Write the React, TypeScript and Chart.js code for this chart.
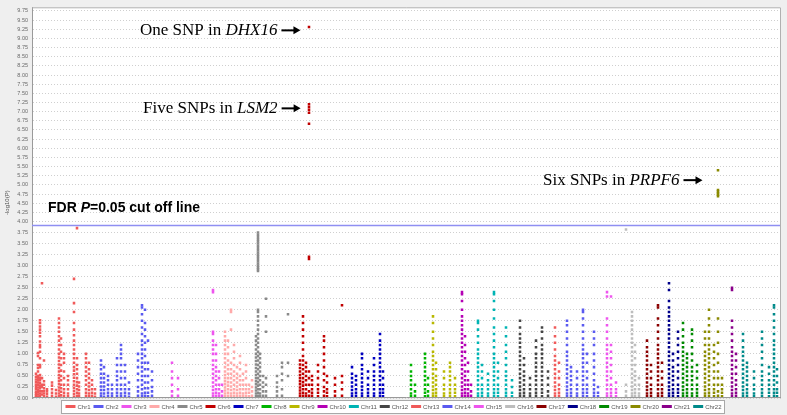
import React, { useEffect, useRef } from 'react';
import { Chart, registerables, LinearScale } from 'chart.js';

Chart.register(...registerables);

// ---------- data ----------
const chromosomes = ['Chr1', 'Chr2', 'Chr3', 'Chr4', 'Chr5', 'Chr6', 'Chr7', 'Chr8', 'Chr9', 'Chr10', 'Chr11',
  'Chr12', 'Chr13', 'Chr14', 'Chr15', 'Chr16', 'Chr17', 'Chr18', 'Chr19', 'Chr20', 'Chr21', 'Chr22'];

const chrColors = ['#f05a5a', '#5a5af0', '#ee55ee', '#ffaaaa', '#8a8a8a', '#c00000', '#0000c0', '#00b400',
  '#b8b800', '#b400b4', '#00b4b4', '#454545', '#f05a5a', '#5a5af0', '#ee55ee', '#bdbdbd', '#8a0000',
  '#00008a', '#008a00', '#8a8a00', '#8a008a', '#008a8a'];

// each column: [position, -log10(P) values ...]
const chr1Columns: number[][] = [
  [4, 0.02, 0.06, 0.1, 0.14, 0.2, 0.25, 0.3, 0.36, 0.42, 0.48, 0.55],
  [6, 0.03, 0.08, 0.13, 0.18, 0.24, 0.3, 0.35, 0.4, 0.46, 0.5, 0.6, 0.68, 0.75, 0.95, 1.02],
  [8, 0.05, 0.1, 0.16, 0.22, 0.28, 0.34, 0.4, 0.46, 0.52, 0.7, 0.75, 0.9, 1.05, 1.15, 1.2, 1.28, 1.4, 1.48, 1.55, 1.62, 1.7, 1.76],
  [10, 2.6, 0.08, 0.15, 0.25, 0.3, 0.45],
  [12, 0.04, 0.1, 0.16, 0.22, 0.3, 0.38, 0.85],
  [15, 0.03, 0.09, 0.15, 0.2],
  [20, 0.05, 0.12, 0.2, 0.28, 0.35],
  [24, 0.03, 0.1, 0.18],
  [27, 0.04, 0.1, 0.17, 0.24, 0.31, 0.38, 0.45, 0.52, 0.6, 0.68, 0.76, 0.84, 0.92, 1.0, 1.1, 1.2, 1.3, 1.4, 1.5, 1.6, 1.7, 1.8],
  [29, 0.06, 0.14, 0.22, 0.3, 0.4, 0.5, 0.62, 0.75, 0.9, 1.05, 1.2, 1.35],
  [32, 0.05, 0.12, 0.2, 0.3, 0.45, 0.6, 0.8, 0.9, 1.0],
  [36, 0.04, 0.1, 0.2, 0.3, 0.4, 0.5],
  [42, 0.03, 0.09, 0.16, 0.23, 0.3, 0.38, 0.46, 0.54, 0.62, 0.7, 0.8, 0.9, 1.0, 1.1, 1.2, 1.3, 1.42, 1.55, 1.7, 1.95, 2.15, 2.7],
  [45, 3.85, 0.05, 0.12, 0.2, 0.28, 0.36, 0.45, 0.55, 0.65, 0.75, 0.9],
  [47, 0.04, 0.1, 0.18, 0.26, 0.35],
  [54, 0.05, 0.12, 0.2, 0.3, 0.4, 0.5, 0.6, 0.7, 0.8, 0.9, 1.0],
  [57, 0.04, 0.1, 0.18, 0.26, 0.34, 0.45, 0.55, 0.65, 0.8],
  [60, 0.05, 0.12, 0.2, 0.3, 0.4],
  [63, 0.03, 0.1, 0.2],
];
const chr2Columns: number[][] = [
  [69, 0.04, 0.1, 0.18, 0.26, 0.35, 0.45, 0.55, 0.65, 0.75, 0.85],
  [72, 0.03, 0.1, 0.18, 0.26, 0.35, 0.45, 0.55, 0.7],
  [76, 0.05, 0.12, 0.2, 0.3, 0.4, 0.5],
  [80, 0.04, 0.1, 0.2, 0.3],
  [85, 0.05, 0.12, 0.2, 0.3, 0.4, 0.5, 0.6, 0.75, 0.9],
  [89, 0.04, 0.1, 0.2, 0.3, 0.45, 0.6, 0.75, 0.9, 1.0, 1.1, 1.2],
  [93, 0.05, 0.12, 0.2, 0.3, 0.45, 0.6, 0.75],
  [97, 0.03, 0.1, 0.2, 0.35],
  [106, 0.05, 0.15, 0.25, 0.4, 0.55, 0.7, 0.85, 1.0],
  [110, 0.04, 0.1, 0.2, 0.3, 0.4, 0.5, 0.6, 0.7, 0.8, 0.9, 1.0, 1.1, 1.2, 1.3, 1.45, 1.6, 1.75, 1.9, 2.05, 2.1],
  [113, 0.05, 0.12, 0.22, 0.35, 0.5, 0.65, 0.8, 0.95, 1.1, 1.25, 1.4, 1.55, 1.7, 2.0],
  [116, 0.04, 0.12, 0.22, 0.35, 0.5, 0.65, 0.8, 1.3],
  [120, 0.05, 0.15, 0.25, 0.4, 0.6],
];
const chr3Columns: number[][] = [
  [140, 0.05, 0.15, 0.3, 0.45, 0.6, 0.8],
  [146, 0.05, 0.2, 0.45],
  [181, 0.04, 0.1, 0.18, 0.26, 0.35, 0.45, 0.55, 0.65, 0.75, 0.85, 1.0, 1.1, 1.2, 1.3, 1.45, 1.5, 2.4, 2.45],
  [184, 0.05, 0.12, 0.2, 0.3, 0.4, 0.5, 0.6, 0.7, 0.85, 1.0, 1.2],
  [187, 0.04, 0.1, 0.2, 0.3, 0.45, 0.6],
  [190, 0.05, 0.15, 0.3],
];
const chr4Columns: number[][] = [
  [193, 0.04, 0.1, 0.17, 0.24, 0.31, 0.38, 0.45, 0.52, 0.6, 0.7, 0.8, 0.9, 1.0, 1.1, 1.2, 1.3, 1.4, 1.5],
  [196, 0.05, 0.12, 0.2, 0.28, 0.36, 0.45, 0.55, 0.65, 0.75, 0.85, 1.0, 1.15, 1.3],
  [199, 0.04, 0.1, 0.18, 0.26, 0.35, 0.45, 0.55, 0.65, 0.8, 1.55, 1.95, 2.0],
  [202, 0.05, 0.12, 0.2, 0.3, 0.4, 0.5, 0.6, 0.75, 0.9, 1.05, 1.2],
  [205, 0.04, 0.1, 0.18, 0.26, 0.35, 0.45, 0.55, 0.7],
  [208, 0.05, 0.12, 0.2, 0.3, 0.4, 0.5, 0.65, 0.8, 0.95],
  [211, 0.04, 0.1, 0.2, 0.3, 0.4, 0.55],
  [214, 0.05, 0.12, 0.2, 0.3, 0.45, 0.6, 0.75],
  [217, 0.04, 0.12, 0.2, 0.3],
  [220, 0.05, 0.15, 0.25, 0.4],
];
const chr5Columns: number[][] = [
  [224, 0.04, 0.1, 0.17, 0.24, 0.31, 0.38, 0.45, 0.52, 0.6, 0.68, 0.76, 0.84, 0.92, 1.0, 1.1, 1.2, 1.3, 1.4],
  [226, 0.05, 0.12, 0.2, 0.28, 0.36, 0.45, 0.55, 0.65, 0.75, 0.85, 0.95, 1.05, 1.15, 1.25, 1.35, 1.45, 1.55, 1.65, 1.75, 1.85, 1.95, 2.0,
    2.88, 2.92, 2.96, 3.0, 3.05, 3.1, 3.15, 3.2, 3.25, 3.3, 3.35, 3.4, 3.45, 3.5, 3.55, 3.6, 3.65, 3.7, 3.75],
  [228, 0.04, 0.1, 0.2, 0.3, 0.4, 0.5, 0.6, 0.7, 0.8, 0.9, 1.0],
  [231, 0.05, 0.15, 0.25, 0.35, 0.5],
  [234, 2.25, 1.85, 1.5, 0.05, 0.15, 0.3, 0.45],
  [245, 0.05, 0.15, 0.25, 0.35, 0.5],
  [250, 0.05, 0.2, 0.4, 0.55, 0.7, 0.8],
  [256, 1.9, 0.8, 0.5],
];
const chr6Columns: number[][] = [
  [268, 0.04, 0.1, 0.17, 0.24, 0.31, 0.38, 0.45, 0.52, 0.6, 0.68, 0.76, 0.85],
  [271, 0.05, 0.12, 0.2, 0.28, 0.36, 0.45, 0.55, 0.65, 0.75, 0.85, 0.95, 1.1, 1.25, 1.4, 1.55, 1.7, 1.85],
  [274, 0.04, 0.1, 0.2, 0.3, 0.4, 0.5, 0.6, 0.7, 0.8],
  [277, 3.2, 3.15, 6.67, 6.97, 7.05, 7.13, 7.2, 9.31, 0.05, 0.15, 0.3, 0.45, 0.6],
  [280, 0.05, 0.12, 0.2, 0.3, 0.4, 0.5],
  [286, 0.04, 0.12, 0.2, 0.3, 0.45, 0.6, 0.75],
  [292, 0.05, 0.15, 0.25, 0.4, 0.55, 0.7, 0.85, 1.0, 1.15, 1.3, 1.4],
  [295, 0.04, 0.12, 0.2, 0.35, 0.5],
  [303, 0.05, 0.15, 0.3, 0.45],
  [310, 2.1, 0.05, 0.2, 0.35, 0.5],
];
const chr7Columns: number[][] = [
  [320, 0.04, 0.1, 0.18, 0.26, 0.35, 0.45, 0.55, 0.7],
  [324, 0.05, 0.12, 0.2, 0.3, 0.4, 0.5],
  [330, 0.04, 0.1, 0.18, 0.26, 0.35, 0.45, 0.55, 0.65, 0.75, 0.9, 1.0],
  [336, 0.05, 0.12, 0.2, 0.3, 0.45, 0.6],
  [342, 0.04, 0.1, 0.2, 0.3, 0.4, 0.5, 0.6, 0.75, 0.9],
  [348, 0.05, 0.12, 0.2, 0.3, 0.4, 0.5, 0.6, 0.7, 0.8, 0.9, 1.0, 1.1, 1.2, 1.3, 1.45],
  [351, 0.04, 0.12, 0.2, 0.3, 0.45, 0.6],
];
const chr8Columns: number[][] = [
  [379, 0.04, 0.1, 0.2, 0.3, 0.4, 0.5, 0.6, 0.75],
  [383, 0.05, 0.15, 0.3],
  [393, 0.04, 0.12, 0.2, 0.3, 0.4, 0.5, 0.6, 0.7, 0.8, 0.9, 1.0],
  [396, 0.05, 0.15, 0.3, 0.45],
];
const chr9Columns: number[][] = [
  [401, 0.04, 0.1, 0.18, 0.26, 0.35, 0.45, 0.55, 0.65, 0.75, 0.85, 0.95, 1.05, 1.2, 1.35, 1.5, 1.7, 1.85],
  [404, 0.05, 0.12, 0.2, 0.3, 0.4, 0.5, 0.65, 0.8],
  [412, 0.04, 0.1, 0.2, 0.3, 0.45, 0.6],
  [418, 0.05, 0.12, 0.2, 0.3, 0.4, 0.5, 0.6, 0.7, 0.8],
  [423, 0.04, 0.12, 0.2, 0.3, 0.45],
];
const chr10Columns: number[][] = [
  [430, 0.04, 0.1, 0.18, 0.26, 0.35, 0.45, 0.55, 0.65, 0.75, 0.85, 0.95, 1.05, 1.15, 1.25, 1.35, 1.45, 1.55, 1.65, 1.75, 1.85, 2.0, 2.2, 2.35, 2.4],
  [433, 0.05, 0.12, 0.2, 0.3, 0.4, 0.5, 0.6, 0.75, 0.9, 1.05, 1.2, 1.4],
  [436, 0.04, 0.1, 0.2, 0.3, 0.4, 0.6, 0.8],
  [439, 0.05, 0.15, 0.3],
];
const chr11Columns: number[][] = [
  [446, 0.04, 0.1, 0.2, 0.3, 0.4, 0.5, 0.6, 0.7, 0.8, 0.9, 1.0, 1.1, 1.25, 1.4, 1.55, 1.7, 1.75],
  [450, 0.05, 0.12, 0.2, 0.3, 0.45, 0.6, 0.75],
  [456, 0.04, 0.1, 0.2, 0.3, 0.4, 0.55],
  [462, 0.05, 0.12, 0.2, 0.3, 0.4, 0.5, 0.6, 0.7, 0.8, 0.9, 1.0, 1.15, 1.3, 1.45, 1.6, 1.8, 2.0, 2.2, 2.35, 2.4],
  [466, 0.04, 0.12, 0.2, 0.3, 0.45, 0.6, 0.8],
  [474, 0.05, 0.12, 0.2, 0.3, 0.4, 0.5, 0.6, 0.75, 0.9, 1.05, 1.2, 1.4, 1.6],
  [480, 0.04, 0.12, 0.25, 0.4],
];
const chr12Columns: number[][] = [
  [488, 0.04, 0.1, 0.18, 0.26, 0.35, 0.45, 0.55, 0.65, 0.75, 0.85, 0.95, 1.05, 1.15, 1.25, 1.35, 1.45, 1.6, 1.75],
  [492, 0.05, 0.12, 0.2, 0.3, 0.4, 0.5, 0.6, 0.75, 0.9],
  [498, 0.04, 0.1, 0.2, 0.3, 0.45],
  [504, 0.05, 0.12, 0.2, 0.3, 0.4, 0.5, 0.6, 0.7, 0.8, 0.9, 1.0, 1.15, 1.3],
  [510, 0.04, 0.12, 0.2, 0.3, 0.4, 0.5, 0.6, 0.7, 0.8, 0.9, 1.0, 1.1, 1.2, 1.35, 1.5, 1.6],
  [516, 0.05, 0.15, 0.3, 0.45, 0.6],
];
const chr13Columns: number[][] = [
  [523, 0.04, 0.1, 0.18, 0.26, 0.35, 0.45, 0.55, 0.65, 0.75, 0.85, 0.95, 1.1, 1.25, 1.4, 1.6],
  [527, 0.05, 0.12, 0.2, 0.3, 0.45, 0.6, 0.8],
];
const chr14Columns: number[][] = [
  [535, 0.04, 0.1, 0.18, 0.26, 0.35, 0.45, 0.55, 0.65, 0.75, 0.85, 0.95, 1.05, 1.2, 1.35, 1.5, 1.65, 1.75],
  [539, 0.05, 0.12, 0.2, 0.3, 0.4, 0.5, 0.6, 0.7],
  [545, 0.04, 0.1, 0.2, 0.3, 0.45, 0.6],
  [551, 0.05, 0.12, 0.2, 0.3, 0.4, 0.5, 0.6, 0.7, 0.8, 0.9, 1.0, 1.1, 1.2, 1.35, 1.5, 1.65, 1.8, 1.95, 2.0],
  [555, 0.04, 0.12, 0.2, 0.3, 0.45, 0.6, 0.8, 1.0],
  [562, 0.05, 0.12, 0.2, 0.3, 0.4, 0.55, 0.7, 0.85, 1.0, 1.2, 1.35, 1.5],
  [566, 0.04, 0.12, 0.25],
];
const chr15Columns: number[][] = [
  [575, 0.04, 0.1, 0.2, 0.3, 0.4, 0.5, 0.6, 0.7, 0.8, 0.9, 1.0, 1.1, 1.2, 1.35, 1.5, 1.65, 1.8, 2.3, 2.4],
  [579, 0.05, 0.12, 0.2, 0.3, 0.45, 0.6, 0.75, 0.9, 1.05, 1.2, 2.3],
  [584, 0.04, 0.12, 0.2, 0.35],
];
const chr16Columns: number[][] = [
  [594, 3.82, 0.05, 0.15, 0.3],
  [600, 0.04, 0.1, 0.18, 0.26, 0.35, 0.45, 0.55, 0.65, 0.75, 0.85, 0.95, 1.05, 1.15, 1.25, 1.35, 1.45, 1.55, 1.65, 1.75, 1.85, 1.95],
  [603, 0.05, 0.12, 0.2, 0.3, 0.4, 0.5, 0.6, 0.75, 0.9, 1.05, 1.2],
  [607, 0.04, 0.1, 0.2, 0.3, 0.45],
];
const chr17Columns: number[][] = [
  [615, 0.04, 0.1, 0.18, 0.26, 0.35, 0.45, 0.55, 0.65, 0.75, 0.85, 0.95, 1.05, 1.15, 1.3],
  [619, 0.05, 0.12, 0.2, 0.3, 0.45, 0.6, 0.75],
  [626, 0.04, 0.1, 0.2, 0.3, 0.4, 0.5, 0.6, 0.7, 0.8, 0.9, 1.0, 1.1, 1.2, 1.35, 1.5, 1.65, 1.8, 2.05, 2.1],
  [630, 0.05, 0.12, 0.2, 0.3, 0.45, 0.6, 0.8],
];
const chr18Columns: number[][] = [
  [637, 0.04, 0.1, 0.18, 0.26, 0.35, 0.45, 0.55, 0.65, 0.75, 0.85, 0.95, 1.05, 1.15, 1.25, 1.35, 1.45, 1.55, 1.65, 1.75, 1.85, 1.95, 2.05, 2.2, 2.45, 2.6],
  [641, 0.05, 0.12, 0.2, 0.3, 0.4, 0.5, 0.6, 0.7, 0.85, 1.0],
  [646, 0.04, 0.12, 0.2, 0.3, 0.45, 0.6, 0.75, 0.9, 1.05, 1.2, 1.35, 1.5],
];
const chr19Columns: number[][] = [
  [651, 0.04, 0.1, 0.18, 0.26, 0.35, 0.45, 0.55, 0.65, 0.75, 0.85, 0.95, 1.05, 1.15, 1.25, 1.4, 1.55, 1.7],
  [655, 0.05, 0.12, 0.2, 0.3, 0.4, 0.5, 0.6, 0.7, 0.8, 0.9, 1.0],
  [660, 0.04, 0.1, 0.2, 0.3, 0.4, 0.5, 0.6, 0.7, 0.85, 1.0, 1.15, 1.3, 1.45, 1.55],
  [665, 0.05, 0.12, 0.2, 0.3, 0.45, 0.6, 0.75],
];
const chr20Columns: number[][] = [
  [673, 0.04, 0.1, 0.18, 0.26, 0.35, 0.45, 0.55, 0.65, 0.75, 0.85, 0.95, 1.05, 1.2, 1.35, 1.5],
  [677, 0.05, 0.12, 0.2, 0.3, 0.4, 0.5, 0.6, 0.7, 0.8, 0.9, 1.0, 1.1, 1.2, 1.35, 1.5, 1.65, 1.8, 2.0],
  [682, 0.04, 0.12, 0.2, 0.3, 0.45, 0.6, 0.75, 0.9, 1.05, 1.2],
  [686, 4.69, 4.73, 4.77, 4.82, 4.86, 5.4, 0.05, 0.15, 0.3, 0.45, 0.6, 0.8, 1.0, 1.25, 1.5, 1.8],
  [690, 0.04, 0.12, 0.2, 0.3, 0.45],
];
const chr21Columns: number[][] = [
  [700, 0.04, 0.1, 0.18, 0.26, 0.35, 0.45, 0.55, 0.65, 0.75, 0.85, 0.95, 1.05, 1.15, 1.3, 1.45, 1.6, 1.75, 2.45, 2.5],
  [704, 0.05, 0.12, 0.2, 0.3, 0.4, 0.55, 0.7, 0.85, 1.0],
];
const chr22Columns: number[][] = [
  [711, 0.04, 0.1, 0.18, 0.26, 0.35, 0.45, 0.55, 0.65, 0.75, 0.85, 0.95, 1.05, 1.15, 1.3, 1.45],
  [715, 0.05, 0.12, 0.2, 0.3, 0.4, 0.5, 0.6, 0.7, 0.8],
  [722, 0.04, 0.1, 0.2, 0.3, 0.45, 0.6],
  [730, 0.05, 0.12, 0.2, 0.3, 0.4, 0.5, 0.6, 0.75, 0.9, 1.05, 1.2, 1.35, 1.5],
  [737, 0.04, 0.12, 0.2, 0.3, 0.4, 0.55, 0.7],
  [742, 0.05, 0.12, 0.2, 0.3, 0.4, 0.5, 0.6, 0.7, 0.8, 0.9, 1.0, 1.1, 1.2, 1.3, 1.45, 1.6, 1.75, 1.9, 2.05, 2.1],
  [745, 0.04, 0.12, 0.2, 0.35, 0.5, 0.65],
];

const chrColumns = [chr1Columns, chr2Columns, chr3Columns, chr4Columns, chr5Columns, chr6Columns, chr7Columns,
  chr8Columns, chr9Columns, chr10Columns, chr11Columns, chr12Columns, chr13Columns, chr14Columns, chr15Columns,
  chr16Columns, chr17Columns, chr18Columns, chr19Columns, chr20Columns, chr21Columns, chr22Columns];

const positionRange = [0, 749];
const yRange = [0, 9.85];
const yTickStep = 0.25;
const yAxisTitle = '-log10(P)';
const cutoffValue = 3.91;
const cutoffText = ['FDR ', 'P', '=0.05 cut off line'];
const geneNotes = [
  { pre: 'One SNP in ', gene: 'DHX16' },
  { pre: 'Five SNPs in ', gene: 'LSM2' },
  { pre: 'Six SNPs in ', gene: 'PRPF6' },
];

// ---------- layout / styling (not data) ----------
const Y_BREAK = 4;
const LOWER_SHARE = 0.4517; // share of plot height used by 0..4 in the original figure
const notePlacement = [
  { x: 108, y: 9.22 },
  { x: 111, y: 7.09 },
  { x: 511, y: 5.13 },
];
const cutoffTextPlacement = { x: 16, y: 4.37 };
const LEGEND_FONT = '6px "Liberation Sans", Arial, sans-serif';

class BrokenLinearScale extends LinearScale {
  static id = 'brokenLinear';
  static defaults = {};
  getPixelForValue(value: any) {
    if (value === null || value === undefined || isNaN(value)) return NaN;
    const lo = this.min;
    const hi = this.max;
    let d;
    if (value <= Y_BREAK) d = ((value - lo) / (Y_BREAK - lo)) * LOWER_SHARE;
    else d = LOWER_SHARE + ((value - Y_BREAK) / (hi - Y_BREAK)) * (1 - LOWER_SHARE);
    return this.getPixelForDecimal(d);
  }
  getValueForPixel(pixel: number) {
    const d = this.getDecimalForPixel(pixel);
    if (d <= LOWER_SHARE) return this.min + (d / LOWER_SHARE) * (Y_BREAK - this.min);
    return Y_BREAK + ((d - LOWER_SHARE) / (1 - LOWER_SHARE)) * (this.max - Y_BREAK);
  }
}
Chart.register(BrokenLinearScale as any);

const backgroundPlugin = {
  id: 'figureBackground',
  beforeDraw(chart: any) {
    const { ctx, chartArea: a, width, height } = chart;
    ctx.save();
    ctx.fillStyle = '#efefef';
    ctx.fillRect(0, 0, width, height);
    ctx.fillStyle = '#ffffff';
    ctx.fillRect(a.left, a.top, a.right - a.left, a.bottom - a.top);
    ctx.restore();
  },
  afterDraw(chart: any) {
    const { ctx, chartArea: a, width } = chart;
    ctx.save();
    ctx.strokeStyle = '#b0b0b0';
    ctx.lineWidth = 1;
    ctx.beginPath();
    ctx.moveTo(a.left, a.top + 0.5);
    ctx.lineTo(a.right - 0.5, a.top + 0.5);
    ctx.lineTo(a.right - 0.5, a.bottom);
    ctx.stroke();
    ctx.strokeStyle = '#999999';
    ctx.beginPath();
    ctx.moveTo(a.left, a.bottom - 0.5);
    ctx.lineTo(a.right, a.bottom - 0.5);
    ctx.stroke();

    // legend (drawn from chromosome names and colours)
    ctx.font = LEGEND_FONT;
    const sw = 10, gapIn = 2, gapOut = 3;
    const widths = chromosomes.map((c) => ctx.measureText(c).width);
    const total = widths.reduce((s, w) => s + sw + gapIn + w + gapOut, 0) - gapOut;
    let x = (width - total) / 2;
    const cy = a.bottom + 8.5;
    const bx = Math.round(x - 4) + 0.5;
    const by = Math.round(cy - 6.5) + 0.5;
    ctx.fillStyle = '#ffffff';
    ctx.fillRect(bx, by, Math.round(total + 7), 13);
    ctx.strokeStyle = '#a8a8a8';
    ctx.strokeRect(bx, by, Math.round(total + 7), 13);
    ctx.textBaseline = 'middle';
    chromosomes.forEach((c, i) => {
      ctx.fillStyle = chrColors[i];
      ctx.fillRect(x, cy - 1.5, sw, 3);
      ctx.fillStyle = '#555';
      ctx.fillText(c, x + sw + gapIn, cy + 0.5);
      x += sw + gapIn + widths[i] + gapOut;
    });
    ctx.restore();
  },
};

function drawArrow(ctx: CanvasRenderingContext2D, x1: number, x2: number, y: number) {
  ctx.save();
  ctx.strokeStyle = '#000';
  ctx.fillStyle = '#000';
  ctx.lineWidth = 2;
  ctx.beginPath();
  ctx.moveTo(x1, y);
  ctx.lineTo(x2 - 5, y);
  ctx.stroke();
  ctx.beginPath();
  ctx.moveTo(x2, y);
  ctx.lineTo(x2 - 7, y - 4);
  ctx.lineTo(x2 - 7, y + 4);
  ctx.closePath();
  ctx.fill();
  ctx.restore();
}

const notesPlugin = {
  id: 'geneNotes',
  afterDraw(chart: any) {
    const { ctx } = chart;
    const xs = chart.scales.x;
    const ys = chart.scales.y;
    ctx.save();
    ctx.textBaseline = 'middle';
    ctx.fillStyle = '#000';
    geneNotes.forEach((n, i) => {
      const p = notePlacement[i];
      let x = xs.getPixelForValue(p.x);
      const y = ys.getPixelForValue(p.y);
      ctx.font = '17px "Liberation Serif", "Times New Roman", serif';
      ctx.fillText(n.pre, x, y);
      x += ctx.measureText(n.pre).width;
      ctx.font = 'italic 17px "Liberation Serif", "Times New Roman", serif';
      ctx.fillText(n.gene, x, y);
      x += ctx.measureText(n.gene).width;
      drawArrow(ctx, x + 4, x + 23, y);
    });
    // cut-off label
    let x = xs.getPixelForValue(cutoffTextPlacement.x);
    const y = ys.getPixelForValue(cutoffTextPlacement.y);
    cutoffText.forEach((t, i) => {
      ctx.font = (i === 1 ? 'italic ' : '') + 'bold 14px "Liberation Sans", Arial, sans-serif';
      ctx.fillText(t, x, y);
      x += ctx.measureText(t).width;
    });
    ctx.restore();
  },
};

function buildDatasets() {
  const sets: any[] = chromosomes.map((name, i) => ({
    type: 'scatter',
    label: name,
    data: chrColumns[i].flatMap((col) => col.slice(1).map((v) => ({ x: col[0], y: v }))),
    backgroundColor: chrColors[i],
    borderColor: chrColors[i],
    borderWidth: 0,
    pointStyle: 'rect',
    pointRadius: 1.8,
    pointHoverRadius: 1.8,
  }));
  sets.push({
    type: 'line',
    label: 'cutoff',
    data: [{ x: positionRange[0], y: cutoffValue }, { x: positionRange[1], y: cutoffValue }],
    borderColor: '#8f8ff2',
    borderWidth: 1.5,
    pointRadius: 0,
    fill: false,
  });
  return sets;
}

export default function App() {
  const canvasRef = useRef<HTMLCanvasElement>(null);
  useEffect(() => {
    document.body.style.margin = '0';
    const chart = new Chart(canvasRef.current as HTMLCanvasElement, {
      type: 'scatter',
      data: { datasets: buildDatasets() },
      options: {
        animation: false,
        responsive: true,
        maintainAspectRatio: false,
        layout: { padding: { top: 5, right: 6, left: 0, bottom: 17 } },
        scales: {
          x: { type: 'linear', min: positionRange[0], max: positionRange[1], display: false },
          y: {
            type: 'brokenLinear' as any,
            min: yRange[0],
            max: yRange[1],
            afterBuildTicks: (scale: any) => {
              scale.ticks = scale.ticks.filter((t: any) => Math.abs(t.value / yTickStep - Math.round(t.value / yTickStep)) < 1e-6);
            },
            afterFit: (scale: any) => { scale.width = 32; },
            ticks: {
              stepSize: yTickStep,
              includeBounds: false,
              autoSkip: false,
              padding: 4,
              color: '#6a6a6a',
              font: { size: 5.5, family: '"Liberation Sans", Arial, sans-serif' },
              callback: (v: any) => Number(v).toFixed(2),
            },
            grid: { color: '#cfcfcf', drawTicks: false, lineWidth: 1 },
            border: { display: true, color: '#9a9a9a', dash: [1, 2] },
            title: {
              display: true,
              text: yAxisTitle,
              color: '#555',
              font: { size: 6, family: '"Liberation Sans", Arial, sans-serif' },
              padding: { top: 4, bottom: 0 },
            },
          } as any,
        },
        plugins: {
          legend: { display: false },
          tooltip: { enabled: false },
        },
      } as any,
      plugins: [backgroundPlugin, notesPlugin],
    });
    return () => chart.destroy();
  }, []);
  return (
    <div style={{ width: 787, height: 415, position: 'relative' }}>
      <canvas ref={canvasRef} />
    </div>
  );
}
